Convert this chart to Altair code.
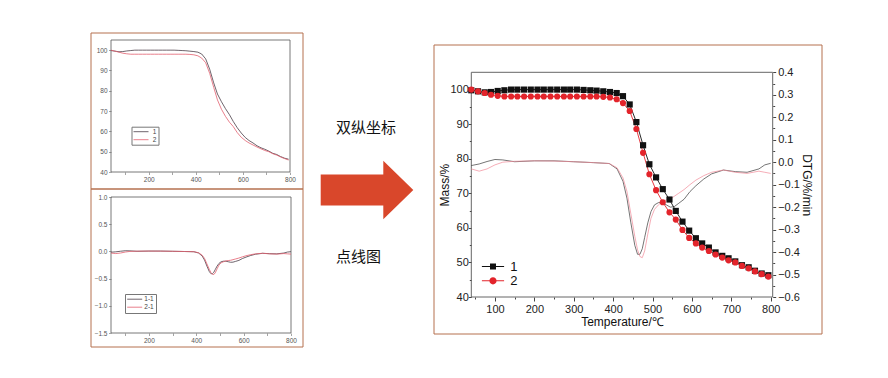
import altair as alt
import pandas as pd

# ---------------- data ----------------
mass_names = ["1", "2"]
dtg_names = ["1-1", "2-1"]

temp_mass = [40, 57, 74, 90, 107, 124, 141, 157, 174, 191, 208, 224, 241, 258, 275, 291,
             308, 325, 342, 358, 375, 392, 409, 425, 442, 459, 476, 492, 509, 526, 543,
             559, 576, 593, 610, 626, 643, 660, 677, 693, 710, 727, 744, 760, 777, 794]
mass_1 = [99.8, 99.5, 99.2, 99.3, 99.6, 99.8,
          100.0, 100.0, 100.0, 100.0, 100.0, 100.0, 100.0, 100.0, 100.0, 100.0, 100.0,
          99.9, 99.8, 99.7, 99.5, 99.3, 99.0, 98.1, 95.7, 90.6, 83.9, 78.4, 74.6, 71.2,
          68.2, 64.9, 61.8, 59.2, 57.0, 55.5, 54.3, 52.9, 51.9, 51.2, 50.3, 49.2, 48.6,
          47.6, 46.8, 46.3]
mass_2 = [100.0, 99.5, 99.0, 98.5, 98.2, 98.0,
          98.0, 98.0, 98.0, 98.0, 98.0, 98.0, 98.0, 98.0, 98.0, 98.0, 98.0, 98.0, 98.0, 98.0,
          97.9, 97.7, 97.2, 96.1, 93.8, 88.6, 81.7, 75.5, 70.9, 67.4, 64.5, 62.4, 59.4,
          57.1, 55.5, 54.3, 53.3, 52.3, 51.4, 50.6, 50.0, 49.0, 48.3, 47.4, 46.6, 45.9]

temp_dtg = [40, 60, 80, 100, 120, 150, 200, 250, 300, 350,
            390, 410, 425, 435, 445, 455, 462, 468, 474, 480,
            488, 496, 505, 515, 525, 535, 545, 555, 565, 580,
            595, 610, 630, 650, 680, 710, 740, 770, 785, 800]
dtg_1 = [-0.015, -0.008, 0.003, 0.012, 0.010, 0.002, 0.006, 0.006, 0.002, -0.002,
         -0.006, -0.03, -0.085, -0.16, -0.27, -0.37, -0.41, -0.41, -0.385, -0.335,
         -0.27, -0.22, -0.19, -0.18, -0.18, -0.19, -0.2, -0.198, -0.185, -0.165,
         -0.131, -0.105, -0.075, -0.052, -0.035, -0.042, -0.045, -0.03, -0.012, -0.005]
dtg_2 = [-0.03, -0.04, -0.03, -0.012, 0.0, 0.004, 0.006, 0.005, 0.002, -0.002,
         -0.006, -0.025, -0.07, -0.13, -0.23, -0.33, -0.39, -0.42, -0.425, -0.395,
         -0.32, -0.25, -0.21, -0.19, -0.175, -0.168, -0.163, -0.152, -0.14, -0.122,
         -0.1, -0.08, -0.06, -0.045, -0.035, -0.045, -0.05, -0.04, -0.045, -0.05]

# ---------------- layout helpers ----------------
W, H = 872, 362


def px(v):
    return v - 8  # page pixel -> chart pixel


one = pd.DataFrame({"k": [0]})
n_m = len(temp_mass)
n_d = len(temp_dtg)
mass_df = pd.DataFrame({"T": temp_mass + temp_mass, "v": mass_1 + mass_2,
                        "s": [mass_names[0]] * n_m + [mass_names[1]] * n_m})
dtg_df = pd.DataFrame({"T": temp_dtg + temp_dtg, "v": dtg_1 + dtg_2,
                       "s": [dtg_names[0]] * n_d + [dtg_names[1]] * n_d})

BOX = "#b5714f"
SMALL_DARK = "#4a3d47"
SMALL_RED = "#e2606f"
FONT = "Liberation Sans"
SMALL_LINE_SYMBOL = "M-1,0 L4,0"


def frame_rect(xs, ys, xd, yd, xaxis, yaxis, stroke, sw):
    return alt.Chart(one).mark_rect(fill="#ffffff", fillOpacity=0, stroke=stroke,
                                    strokeWidth=sw).encode(
        x=alt.XDatum(xd[0], type="quantitative", scale=xs, axis=xaxis),
        x2=alt.datum(xd[1]),
        y=alt.YDatum(yd[0], type="quantitative", scale=ys, axis=yaxis),
        y2=alt.datum(yd[1]),
    )


def small_axis(orient, offset, values, fmt=None, expr=None):
    kw = dict(orient=orient, offset=offset, values=values, title=None, grid=False,
              domain=False, ticks=True, tickSize=2.5, tickColor="#666", tickWidth=0.6,
              labelFont=FONT, labelFontSize=6.5, labelColor="#555", labelPadding=1.5,
              labelFlush=False, labelOverlap=False)
    if fmt:
        kw["format"] = fmt
    if expr:
        kw["labelExpr"] = expr
    return alt.Axis(**kw)


def small_legend(x, y, pad, label_offset, row_pad):
    return alt.Legend(orient="none", legendX=x, legendY=y, title=None,
                      symbolType=SMALL_LINE_SYMBOL, symbolSize=36, symbolStrokeWidth=0.8,
                      labelFontSize=6.5, labelFont=FONT, labelColor="#444",
                      strokeColor="#777", padding=pad, rowPadding=row_pad,
                      labelOffset=label_offset, fillColor="#ffffff")


x_ticks_small = [100, 200, 300, 400, 500, 600, 700, 800]
even_only = "datum.value % 200 == 0 ? datum.label : ''"

# ---------------- top-left: mass ----------------
tl_xs = alt.Scale(domain=[40, 800], range=[px(111), px(290)], nice=False, zero=False)
tl_ys = alt.Scale(domain=[40, 105], range=[px(172), px(40)], nice=False, zero=False)
tl_frame = frame_rect(tl_xs, tl_ys, (40, 800), (40, 105),
                      small_axis("bottom", px(172) - H, x_ticks_small, expr=even_only),
                      small_axis("left", -px(111), [40, 50, 60, 70, 80, 90, 100]),
                      "#555", 0.8)
tl_lines = alt.Chart(mass_df).mark_line(strokeWidth=0.8).encode(
    x=alt.X("T:Q", scale=tl_xs, axis=None),
    y=alt.Y("v:Q", scale=tl_ys, axis=None),
    color=alt.Color("s:N", scale=alt.Scale(domain=mass_names, range=[SMALL_DARK, SMALL_RED]),
                    legend=small_legend(px(131.5), px(126.7), 1.5, 12.7, 1.0)),
)

# ---------------- bottom-left: DTG ----------------
bl_xs = alt.Scale(domain=[40, 800], range=[px(111), px(291)], nice=False, zero=False)
bl_ys = alt.Scale(domain=[-1.5, 1.0], range=[px(333), px(197)], nice=False, zero=False)
bl_frame = frame_rect(bl_xs, bl_ys, (40, 800), (-1.5, 1.0),
                      small_axis("bottom", px(333) - H, x_ticks_small, expr=even_only),
                      small_axis("left", -px(111), [-1.5, -1.0, -0.5, 0.0, 0.5, 1.0], fmt=".1f"),
                      "#555", 0.8)
bl_lines = alt.Chart(dtg_df).mark_line(strokeWidth=0.8).encode(
    x=alt.X("T:Q", scale=bl_xs, axis=None),
    y=alt.Y("v:Q", scale=bl_ys, axis=None),
    color=alt.Color("s:N", scale=alt.Scale(domain=dtg_names, range=[SMALL_DARK, SMALL_RED]),
                    legend=small_legend(px(125), px(294), 1.7, 10.6, 1.0)),
)

# ---------------- right: dual axis point-line chart ----------------
r_xs = alt.Scale(domain=[40, 805], range=[px(471.3), px(772.7)], nice=False, zero=False)
r_ym = alt.Scale(domain=[40, 105], range=[px(297), px(72.3)], nice=False, zero=False)
r_yd = alt.Scale(domain=[-0.6, 0.4], range=[px(297), px(72.3)], nice=False, zero=False)

big = dict(grid=False, domain=False, tickColor="#444", tickWidth=1,
           labelFont=FONT, labelFontSize=11, labelColor="#222",
           labelFlush=False, labelOverlap=False, titleFont=FONT, titleFontSize=12,
           titleFontWeight="normal", titleColor="#111")
minor = dict(grid=False, domain=False, labels=False, title=None, tickColor="#444",
             tickWidth=1, tickSize=2)

r_frame = frame_rect(
    r_xs, r_ym, (40, 805), (40, 105),
    alt.Axis(orient="bottom", offset=px(297) - H,
             values=[100, 200, 300, 400, 500, 600, 700, 800],
             title="Temperature/℃", tickSize=4, labelPadding=2, titlePadding=2, **big),
    alt.Axis(orient="left", offset=-px(471.3), values=[40, 50, 60, 70, 80, 90, 100],
             title="Mass/%", tickSize=3, labelPadding=0, titlePadding=-2, **big),
    "#666", 1)

r_minor_mass = frame_rect(
    r_xs, r_ym, (40, 805), (40, 105),
    alt.Axis(orient="bottom", offset=px(297) - H,
             values=[50, 150, 250, 350, 450, 550, 650, 750], **minor),
    alt.Axis(orient="left", offset=-px(471.3), values=[45, 55, 65, 75, 85, 95], **minor),
    "transparent", 0)

r_minor_dtg = alt.Chart(one).mark_rect(fill="#ffffff", fillOpacity=0, strokeWidth=0).encode(
    y=alt.YDatum(-0.6, type="quantitative", scale=r_yd,
                 axis=alt.Axis(orient="right", offset=px(772.7) - W,
                               values=[-0.55, -0.45, -0.35, -0.25, -0.15, -0.05,
                                       0.05, 0.15, 0.25, 0.35], **minor)),
    y2=alt.datum(0.4),
    x=alt.value(px(480)), x2=alt.value(px(481)),
)

r_dtg = alt.Chart(dtg_df).mark_line(strokeWidth=0.7).encode(
    x=alt.X("T:Q", scale=r_xs, axis=None),
    y=alt.Y("v:Q", scale=r_yd,
            axis=alt.Axis(orient="right", offset=px(772.7) - W,
                          values=[-0.6, -0.5, -0.4, -0.3, -0.2, -0.1, 0.0, 0.1, 0.2, 0.3, 0.4],
                          format=".1f", title="DTG/%/min", tickSize=3, labelPadding=2,
                          titlePadding=0, **big)),
    color=alt.Color("s:N", scale=alt.Scale(domain=dtg_names, range=["#3a3a3a", "#f08a98"]),
                    legend=None),
)

MASS_COLORS = ["#111111", "#e3242b"]

r_mline = alt.Chart(mass_df).mark_line(strokeWidth=0.9).encode(
    x=alt.X("T:Q", scale=r_xs, axis=None),
    y=alt.Y("v:Q", scale=r_ym, axis=None),
    color=alt.Color("s:N", scale=alt.Scale(domain=mass_names, range=MASS_COLORS), legend=None),
)
r_pts = alt.Chart(mass_df).mark_point(filled=True, size=38, opacity=1).encode(
    x=alt.X("T:Q", scale=r_xs, axis=None),
    y=alt.Y("v:Q", scale=r_ym, axis=None),
    color=alt.Color("s:N", scale=alt.Scale(domain=mass_names, range=MASS_COLORS), legend=None),
    shape=alt.Shape("s:N", scale=alt.Scale(domain=mass_names, range=["square", "circle"]),
                    legend=None),
)

# legend-only layer: symbols drawn as "line + marker", no data rows are drawn
LEG_SQ = ("M-1.85,-0.09 L1.85,-0.09 L1.85,0.09 L-1.85,0.09 Z "
          "M-0.5,-0.5 L0.5,-0.5 L0.5,0.5 L-0.5,0.5 Z")
LEG_CI = ("M-1.85,-0.09 L1.85,-0.09 L1.85,0.09 L-1.85,0.09 Z "
          "M-0.6,0 A0.6,0.6 0 1,1 0.6,0 A0.6,0.6 0 1,1 -0.6,0 Z")
r_legend = alt.Legend(orient="none", legendX=px(486.5), legendY=px(260), title=None,
                      symbolSize=144, symbolStrokeWidth=0, labelFont=FONT, labelFontSize=13,
                      labelColor="#111", labelOffset=10.8, padding=0, rowPadding=0.3)
r_leg = alt.Chart(mass_df).transform_filter("datum.v > 1000").mark_point(
    filled=True, size=144, opacity=1).encode(
    x=alt.X("T:Q", scale=r_xs, axis=None),
    y=alt.Y("v:Q", scale=r_ym, axis=None),
    color=alt.Color("s:N", scale=alt.Scale(domain=mass_names, range=MASS_COLORS),
                    legend=r_legend),
    shape=alt.Shape("s:N", scale=alt.Scale(domain=mass_names, range=[LEG_SQ, LEG_CI]),
                    legend=r_legend),
)

# ---------------- decoration: boxes, arrow, captions ----------------
def box(x1, y1, x2, y2):
    return alt.Chart(one).mark_rect(fill="#ffffff", fillOpacity=0, stroke=BOX,
                                    strokeWidth=1).encode(
        x=alt.value(px(x1)), x2=alt.value(px(x2)), y=alt.value(px(y1)), y2=alt.value(px(y2)))


ARROW = "M-0.926,-0.31 L0.326,-0.31 L0.326,-0.583 L0.926,0 L0.326,0.583 L0.326,0.31 L-0.926,0.31 Z"
arrow = alt.Chart(one).mark_point(shape=ARROW, size=10000, filled=True, color="#d9472b",
                                  opacity=1, strokeWidth=0).encode(
    x=alt.value(px(367)), y=alt.value(px(190)))

cap1 = alt.Chart(one).mark_text(text="双纵坐标", font="Noto Sans CJK SC", fontSize=15,
                                align="left", baseline="middle", color="#111").encode(
    x=alt.value(px(336)), y=alt.value(px(128)))
cap2 = alt.Chart(one).mark_text(text="点线图", font="Noto Sans CJK SC", fontSize=15,
                                align="left", baseline="middle", color="#111").encode(
    x=alt.value(px(336)), y=alt.value(px(257)))

chart = alt.layer(
    box(91, 33, 303, 189), box(91, 189, 303, 347), box(434, 45, 822, 334),
    arrow, cap1, cap2,
    tl_frame, tl_lines, bl_frame, bl_lines,
    r_minor_mass, r_minor_dtg, r_frame, r_dtg, r_mline, r_pts, r_leg,
).resolve_scale(
    x="independent", y="independent", color="independent", shape="independent"
).resolve_axis(
    x="independent", y="independent"
).properties(
    width=W, height=H, padding=0, background="#ffffff",
    autosize=alt.AutoSizeParams(type="none")
).configure_view(stroke="transparent", strokeWidth=0)

chart.save("out.html", embed_options={"renderer": "svg", "actions": False})
